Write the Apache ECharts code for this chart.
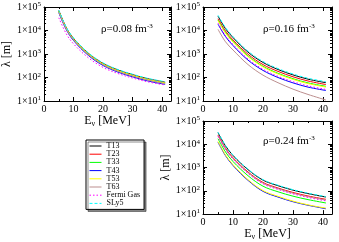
<!DOCTYPE html>
<html><head><meta charset="utf-8">
<script src="https://cdn.jsdelivr.net/npm/echarts@6/dist/echarts.min.js"></script>
<style>html,body{margin:0;padding:0;background:#fff}#c{width:339px;height:242px}</style>
</head><body><div id="c"></div>
<script>
// ---- data ----
const energies = [5, 7.5, 10, 15, 20, 25, 30, 35, 41];
const seriesNames = ['T13', 'T23', 'T33', 'T43', 'T53', 'T63', 'Fermi Gas', 'SLy5'];
const densityLabels = ['0.08', '0.16', '0.24'];
const xTickLabels = [0, 10, 20, 30, 40];
const xMinorTicks = [5, 15, 25, 35];
const yTickLabels = [10, 100, 1000, 10000, 100000];

// rho = 0.08 fm^-3
const p1_T13 = [70700, 13500, 4570, 1070, 398, 209, 132, 89, 63];
const p1_T23 = [67600, 12900, 4370, 1020, 380, 200, 126, 85, 60];
const p1_T33 = [64600, 12300, 4170, 977, 363, 191, 120, 81, 58];
const p1_T43 = [57500, 11000, 3720, 871, 324, 170, 107, 72, 51];
const p1_T53 = [66100, 12600, 4270, 1000, 372, 195, 123, 83, 59];
const p1_T63 = [61700, 11700, 3980, 933, 347, 182, 115, 78, 55];
const p1_FG  = [34700, 7400, 2690, 692, 269, 148, 95, 66, 48];
const p1_SLy5 = [74000, 14100, 4790, 1120, 417, 219, 138, 93, 66];

// rho = 0.16 fm^-3
const p2_T13 = [40700, 12000, 5010, 1200, 437, 219, 129, 85, 60];
const p2_T23 = [31600, 9550, 3980, 977, 355, 182, 107, 71, 50];
const p2_T33 = [28200, 8320, 3470, 832, 302, 151, 89, 59, 42];
const p2_T43 = [18600, 5500, 2290, 550, 200, 100, 59, 39, 28];
const p2_T53 = [26300, 7760, 3240, 776, 282, 141, 83, 55, 39];
const p2_T63 = [11200, 3310, 1480, 355, 126, 60, 32, 19, 11];
const p2_FG  = [20900, 6170, 2570, 617, 224, 112, 66, 44, 31];
const p2_SLy5 = [44700, 13200, 5500, 1320, 479, 240, 141, 93, 66];

// rho = 0.24 fm^-3
const p3_T13 = [31600, 8510, 3310, 813, 288, 166, 107, 76, 54];
const p3_T23 = [25100, 6760, 2630, 646, 229, 132, 85, 60, 43];
const p3_T33 = [17400, 4680, 1820, 447, 158, 91, 59, 42, 30];
const p3_T43 = [12300, 3240, 1230, 282, 95, 54, 34, 24, 17];
const p3_T53 = [13200, 3470, 1320, 302, 102, 58, 36, 25, 18];
const p3_T63 = [23400, 6310, 2450, 603, 214, 123, 79, 56, 40];
const p3_FG  = [21900, 5890, 2290, 562, 200, 115, 74, 52, 37];
const p3_SLy5 = [33100, 8910, 3470, 851, 302, 174, 112, 79, 56];

const panels = [
  [p1_T13, p1_T23, p1_T33, p1_T43, p1_T53, p1_T63, p1_FG, p1_SLy5],
  [p2_T13, p2_T23, p2_T33, p2_T43, p2_T53, p2_T63, p2_FG, p2_SLy5],
  [p3_T13, p3_T23, p3_T33, p3_T43, p3_T53, p3_T63, p3_FG, p3_SLy5]
];

// ---- styles ----
const SERIF = '"Liberation Serif", "Times New Roman", "DejaVu Serif", serif';
const colors = ['#000000', '#ff0000', '#00ff00', '#0000ff', '#ffff00', '#bc8f8f', '#ff00ff', '#00ffff'];
const dashes = ['solid', 'solid', 'solid', 'solid', 'solid', 'solid', [1.5, 2], [3, 2]];
const grids = [
  { left: 42, top: 7, width: 129, height: 94 },
  { left: 203, top: 7, width: 129, height: 94 },
  { left: 203, top: 121, width: 129, height: 94 }
];
const showXName = [true, false, true];
const showYName = [true, false, true];
const X_MAX = 43;

const yMinor = [];
for (let d = 10; d < 100000; d *= 10) for (let k = 2; k <= 9; k++) yMinor.push(k * d);

const xAxes = [], yAxes = [];
grids.forEach((g, gi) => {
  const base = { gridIndex: gi, type: 'value', min: 0, max: X_MAX, splitLine: { show: false } };
  xAxes.push(Object.assign({}, base, {
    position: 'bottom',
    axisLine: { show: true, onZero: false, lineStyle: { color: '#000', width: 1 } },
    axisTick: { inside: true, length: 4, customValues: xTickLabels, lineStyle: { color: '#000' } },
    axisLabel: { customValues: xTickLabels, fontFamily: SERIF, fontSize: 10, color: '#000', margin: 3 },
    name: showXName[gi] ? 'E{sub|ν} [MeV]' : '',
    nameLocation: 'middle', nameGap: 12,
    nameTextStyle: { fontFamily: SERIF, fontSize: 12, color: '#000',
      rich: { sub: { fontFamily: SERIF, fontSize: 8, color: '#000', verticalAlign: 'bottom', padding: [6, 0, 0, 0] } } }
  }));
  xAxes.push(Object.assign({}, base, {
    position: 'bottom', axisLine: { show: false, onZero: false },
    axisTick: { inside: true, length: 2, customValues: xMinorTicks, lineStyle: { color: '#000' } },
    axisLabel: { show: false }
  }));
  xAxes.push(Object.assign({}, base, {
    position: 'top', axisLine: { show: true, onZero: false, lineStyle: { color: '#000', width: 1 } },
    axisTick: { inside: true, length: 4, customValues: xTickLabels, lineStyle: { color: '#000' } },
    axisLabel: { show: false }
  }));
  xAxes.push(Object.assign({}, base, {
    position: 'top', axisLine: { show: false, onZero: false },
    axisTick: { inside: true, length: 2, customValues: xMinorTicks, lineStyle: { color: '#000' } },
    axisLabel: { show: false }
  }));

  const ybase = { gridIndex: gi, type: 'log', logBase: 10, min: 10, max: 100000, splitLine: { show: false } };
  yAxes.push(Object.assign({}, ybase, {
    position: 'left',
    axisLine: { show: true, onZero: false, lineStyle: { color: '#000', width: 1 } },
    axisTick: { inside: true, length: 4, customValues: yTickLabels, lineStyle: { color: '#000' } },
    axisLabel: {
      customValues: yTickLabels, fontFamily: SERIF, fontSize: 10, color: '#000', margin: 3,
      formatter: v => '1×10{e|' + Math.round(Math.log10(v)) + '}',
      rich: { e: { fontFamily: SERIF, fontSize: 7, color: '#000', verticalAlign: 'top', padding: [0, 0, 5, 0] } }
    },
    name: showYName[gi] ? 'λ [m]' : '',
    nameLocation: 'middle', nameGap: 29,
    nameTextStyle: { fontFamily: SERIF, fontSize: 12, color: '#000' }
  }));
  yAxes.push(Object.assign({}, ybase, {
    position: 'left', axisLine: { show: false, onZero: false },
    axisTick: { inside: true, length: 2, customValues: yMinor, lineStyle: { color: '#000' } },
    axisLabel: { show: false }
  }));
  yAxes.push(Object.assign({}, ybase, {
    position: 'right', axisLine: { show: true, onZero: false, lineStyle: { color: '#000', width: 1 } },
    axisTick: { inside: true, length: 4, customValues: yTickLabels, lineStyle: { color: '#000' } },
    axisLabel: { show: false }
  }));
  yAxes.push(Object.assign({}, ybase, {
    position: 'right', axisLine: { show: false, onZero: false },
    axisTick: { inside: true, length: 2, customValues: yMinor, lineStyle: { color: '#000' } },
    axisLabel: { show: false }
  }));
});

const series = [];
panels.forEach((sets, gi) => {
  sets.forEach((vals, si) => {
    series.push({
      type: 'line', name: seriesNames[si],
      xAxisIndex: gi * 4, yAxisIndex: gi * 4,
      data: energies.map((e, i) => [e, vals[i]]),
      symbol: 'none', showSymbol: false, smooth: 0.35,
      lineStyle: { width: 1, color: colors[si], type: dashes[si] },
      itemStyle: { color: colors[si] },
      emphasis: { disabled: true }, silent: true, z: 2
    });
  });
});

const labelPos = [
  { left: 101, top: 23 },
  { left: 263, top: 23 },
  { left: 263, top: 135 }
];
const graphic = densityLabels.map((d, i) => ({
  type: 'text', left: labelPos[i].left, top: labelPos[i].top, z: 10,
  style: {
    text: 'ρ=' + d + ' fm{s|-3}', fontFamily: SERIF, fontSize: 11, fill: '#000',
    rich: { s: { fontFamily: SERIF, fontSize: 7, fill: '#000', verticalAlign: 'top', padding: [0, 0, 5, 0] } }
  }
}));

const chart = echarts.init(document.getElementById('c'), null, { renderer: 'canvas' });
chart.setOption({
  animation: false,
  backgroundColor: '#fff',
  grid: grids.map(g => Object.assign({ containLabel: false }, g)),
  xAxis: xAxes,
  yAxis: yAxes,
  legend: {
    orient: 'vertical', left: 86, top: 140,
    data: seriesNames, selectedMode: false,
    itemWidth: 12, itemHeight: 8, itemGap: 0.2,
    padding: [2, 4, 2, 3],
    borderColor: '#000', borderWidth: 1, backgroundColor: '#fff',
    shadowColor: 'rgba(0,0,0,0.45)', shadowOffsetX: 2, shadowOffsetY: 2, shadowBlur: 0,
    itemStyle: { opacity: 0 },
    lineStyle: { width: 1 },
    textStyle: { fontFamily: SERIF, fontSize: 8, color: '#000', lineHeight: 8, height: 8 }
  },
  graphic: graphic,
  series: series
});
</script></body></html>
